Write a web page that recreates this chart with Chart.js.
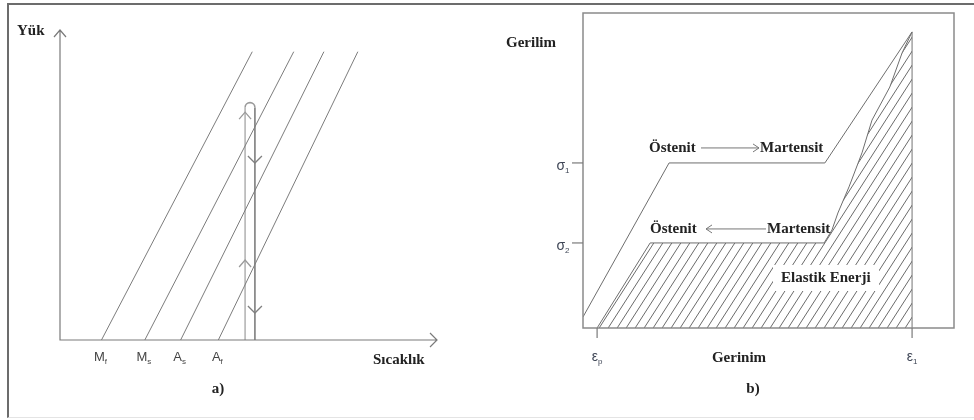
<!DOCTYPE html>
<html>
<head>
<meta charset="utf-8">
<script src="https://cdn.jsdelivr.net/npm/chart.js@4.4.1/dist/chart.umd.min.js"></script>
<style>
  html, body { margin: 0; padding: 0; background: #fff; }
  #wrap { position: relative; width: 974px; height: 420px; overflow: hidden; }
  #frame { position: absolute; left: 7px; top: 3px; width: 990px; height: 412px;
           border-top: 2px solid #6c6c6c; border-left: 2px solid #6c6c6c; border-bottom: 1px solid #e4e4e4; }
  .layer { position: absolute; left: 0; top: 0; width: 974px; height: 420px; }
</style>
</head>
<body>
<div id="wrap">
  <div id="frame"></div>
  <div class="layer"><canvas id="leftChart"></canvas></div>
  <div class="layer"><canvas id="rightChart"></canvas></div>
</div>
<script>
// ---- a) load vs temperature (arbitrary units 0-100 on both axes)
const transTemps = [11, 22.5, 32, 42];        // Mf, Ms, As, Af at zero load
const transTempsTop = [51, 62, 70, 79];       // the same lines at the top load
const transTopLoad = 93;
const transLabels = [['M', 'f'], ['M', 's'], ['A', 's'], ['A', 'f']];
const pathTemps = [49.1, 51.7];               // the up / down path
const pathTopLoad = 75;
const upArrowLoads = [73.5, 25.8];
const downArrowLoads = [57.1, 8.7];

// ---- b) stress vs strain (arbitrary units 0-100 on both axes)
const loadStrain = [0, 23.2, 65.2, 88.7];
const loadStress = [3.5, 52.4, 52.4, 94];
const unloadStrain = [3.8, 18.1, 65.0, 67.1, 68.7, 71.7, 75.2, 77.9, 82.7, 86.0, 88.7];
const unloadStress = [0, 27, 27, 31.1, 36.5, 44.8, 55.6, 66, 76.5, 87.3, 94];
const sigmaTicks = [52.4, 27];
const sigmaLabels = ['1', '2'];
const epsTicks = [3.8, 88.7];
const epsLabels = ['p', '1'];

const LINE = '#707070';
const TEXT = '#222';
const BOLD = 'bold 15px "Liberation Serif", "DejaVu Serif", serif';

function toPoints(xs, ys) {
    return xs.map(function (x, i) { return { x: x, y: ys[i] }; });
}

function text(ctx, s, x, y, align) {
    ctx.font = BOLD;
    ctx.fillStyle = TEXT;
    ctx.textAlign = align || 'left';
    ctx.textBaseline = 'middle';
    ctx.fillText(s, x, y);
}

// letter with a small lowered index, centred on cx
function subText(ctx, main, sub, cx, y, size, color) {
    ctx.fillStyle = color;
    ctx.textBaseline = 'middle';
    ctx.textAlign = 'left';
    ctx.font = size + 'px "Liberation Sans", "DejaVu Sans", sans-serif';
    const wm = ctx.measureText(main).width;
    ctx.font = Math.round(size * 0.6) + 'px "Liberation Sans", "DejaVu Sans", sans-serif';
    const ws = ctx.measureText(sub).width;
    const x0 = cx - (wm + ws) / 2;
    ctx.fillText(sub, x0 + wm, y + size * 0.35);
    ctx.font = size + 'px "Liberation Sans", "DejaVu Sans", sans-serif';
    ctx.fillText(main, x0, y);
}

function hatchPattern() {
    const w = 9, h = 14;
    const c = document.createElement('canvas');
    c.width = w; c.height = h;
    const g = c.getContext('2d');
    g.strokeStyle = '#6a6a6a';
    g.lineWidth = 1;
    g.beginPath();
    for (let k = -1; k <= 1; k++) {
        g.moveTo(k * w, h);
        g.lineTo(k * w + w, 0);
    }
    g.stroke();
    return document.createElement('canvas').getContext('2d').createPattern(c, 'repeat');
}

const baseOptions = function (padding) {
    return {
        responsive: true,
        maintainAspectRatio: false,
        animation: false,
        events: [],
        layout: { padding: padding },
        plugins: { legend: { display: false }, tooltip: { enabled: false } },
        elements: { point: { radius: 0 }, line: { tension: 0 } },
        scales: {
            x: { type: 'linear', min: 0, max: 100, display: false },
            y: { type: 'linear', min: 0, max: 100, display: false }
        }
    };
};

// ---------------- left chart
const leftDecor = {
    id: 'leftDecor',
    afterDraw(chart) {
        const ctx = chart.ctx, a = chart.chartArea;
        const xs = chart.scales.x, ys = chart.scales.y;
        ctx.save();
        ctx.strokeStyle = '#7a7a7a';
        ctx.lineWidth = 1.2;
        ctx.beginPath();
        ctx.moveTo(a.left, a.top); ctx.lineTo(a.left, a.bottom); ctx.lineTo(a.right, a.bottom);
        ctx.moveTo(a.left - 6, a.top + 7); ctx.lineTo(a.left, a.top); ctx.lineTo(a.left + 6, a.top + 7);
        ctx.moveTo(a.right - 7, a.bottom - 7); ctx.lineTo(a.right, a.bottom); ctx.lineTo(a.right - 7, a.bottom + 7);
        ctx.stroke();

        // loop joining the two vertical paths
        const p0 = xs.getPixelForValue(pathTemps[0]), p1 = xs.getPixelForValue(pathTemps[1]);
        const cy = ys.getPixelForValue(pathTopLoad);
        ctx.strokeStyle = '#9a9a9a';
        ctx.lineWidth = 1.6;
        ctx.beginPath();
        ctx.arc((p0 + p1) / 2, cy, (p1 - p0) / 2, Math.PI, 0);
        ctx.stroke();

        ctx.lineWidth = 1.3;
        ctx.strokeStyle = '#9a9a9a';
        upArrowLoads.forEach(function (v) {
            const y = ys.getPixelForValue(v);
            ctx.beginPath();
            ctx.moveTo(p0 - 6, y + 7); ctx.lineTo(p0, y); ctx.lineTo(p0 + 6, y + 7);
            ctx.stroke();
        });
        ctx.strokeStyle = '#808080';
        downArrowLoads.forEach(function (v) {
            const y = ys.getPixelForValue(v);
            ctx.beginPath();
            ctx.moveTo(p1 - 7, y - 7); ctx.lineTo(p1, y); ctx.lineTo(p1 + 7, y - 7);
            ctx.stroke();
        });

        transTemps.forEach(function (t, i) {
            subText(ctx, transLabels[i][0], transLabels[i][1], xs.getPixelForValue(t) - 1, a.bottom + 17, 13, '#444');
        });

        text(ctx, 'Yük', 17, 31);
        text(ctx, 'Sıcaklık', 373, 360);
        text(ctx, 'a)', 218, 389, 'center');
        ctx.restore();
    }
};

const leftSets = transTemps.map(function (t, i) {
    return {
        data: [{ x: t, y: 0 }, { x: transTempsTop[i], y: transTopLoad }],
        borderColor: '#7c7c7c', borderWidth: 1
    };
});
leftSets.push({
    data: [{ x: pathTemps[0], y: 0 }, { x: pathTemps[0], y: pathTopLoad }],
    borderColor: '#bdbdbd', borderWidth: 1.8
});
leftSets.push({
    data: [{ x: pathTemps[1], y: 0 }, { x: pathTemps[1], y: pathTopLoad }],
    borderColor: '#8c8c8c', borderWidth: 1.8
});

new Chart(document.getElementById('leftChart'), {
    type: 'scatter',
    data: { datasets: leftSets.map(function (d) { return Object.assign({ showLine: true, fill: false }, d); }) },
    options: baseOptions({ left: 60, right: 537, top: 30, bottom: 80 }),
    plugins: [leftDecor]
});

// ---------------- right chart
const rightDecor = {
    id: 'rightDecor',
    afterDraw(chart) {
        const ctx = chart.ctx, a = chart.chartArea;
        const xs = chart.scales.x, ys = chart.scales.y;
        ctx.save();
        ctx.strokeStyle = '#8a8a8a';
        ctx.lineWidth = 1.5;
        ctx.strokeRect(a.left, a.top, a.right - a.left, a.bottom - a.top);

        ctx.lineWidth = 1.2;
        ctx.strokeStyle = '#7a7a7a';
        sigmaTicks.forEach(function (v, i) {
            const y = ys.getPixelForValue(v);
            ctx.beginPath(); ctx.moveTo(a.left - 11, y); ctx.lineTo(a.left, y); ctx.stroke();
            subText(ctx, 'σ', sigmaLabels[i], a.left - 20, y + 3, 14, '#3f4656');
        });
        epsTicks.forEach(function (v, i) {
            const x = xs.getPixelForValue(v);
            ctx.beginPath(); ctx.moveTo(x, a.bottom); ctx.lineTo(x, a.bottom + 10); ctx.stroke();
            subText(ctx, 'ε', epsLabels[i], x, a.bottom + 29, 14, '#3f4656');
        });

        // phase change labels
        const y1 = ys.getPixelForValue(sigmaTicks[0]) - 15;
        const y2 = ys.getPixelForValue(sigmaTicks[1]) - 14;
        text(ctx, 'Östenit', 649, y1);
        text(ctx, 'Martensit', 760, y1);
        text(ctx, 'Östenit', 650, y2);
        text(ctx, 'Martensit', 767, y2);
        ctx.strokeStyle = '#777';
        ctx.lineWidth = 1;
        ctx.beginPath();
        ctx.moveTo(701, y1); ctx.lineTo(759, y1);
        ctx.moveTo(753, y1 - 4); ctx.lineTo(759, y1); ctx.lineTo(753, y1 + 4);
        ctx.moveTo(706, y2); ctx.lineTo(766, y2);
        ctx.moveTo(712, y2 - 4); ctx.lineTo(706, y2); ctx.lineTo(712, y2 + 4);
        ctx.stroke();

        ctx.fillStyle = '#fff';
        ctx.fillRect(773, 265, 106, 26);
        text(ctx, 'Elastik Enerji', 781, 278);

        text(ctx, 'Gerilim', 506, 43);
        text(ctx, 'Gerinim', 739, 358, 'center');
        text(ctx, 'b)', 753, 389, 'center');
        ctx.restore();
    }
};

new Chart(document.getElementById('rightChart'), {
    type: 'scatter',
    data: {
        datasets: [
            {
                data: toPoints(unloadStrain, unloadStress),
                showLine: true, borderColor: '#6e6e6e', borderWidth: 1,
                fill: 'origin', backgroundColor: hatchPattern()
            },
            {
                data: toPoints(loadStrain, loadStress),
                showLine: true, borderColor: '#6e6e6e', borderWidth: 1, fill: false
            },
            {
                data: [{ x: epsTicks[1], y: 0 }, { x: epsTicks[1], y: loadStress[3] }],
                showLine: true, borderColor: '#8a8a8a', borderWidth: 1.2, fill: false
            }
        ]
    },
    options: baseOptions({ left: 583, right: 20, top: 13, bottom: 92 }),
    plugins: [rightDecor]
});
</script>
</body>
</html>
